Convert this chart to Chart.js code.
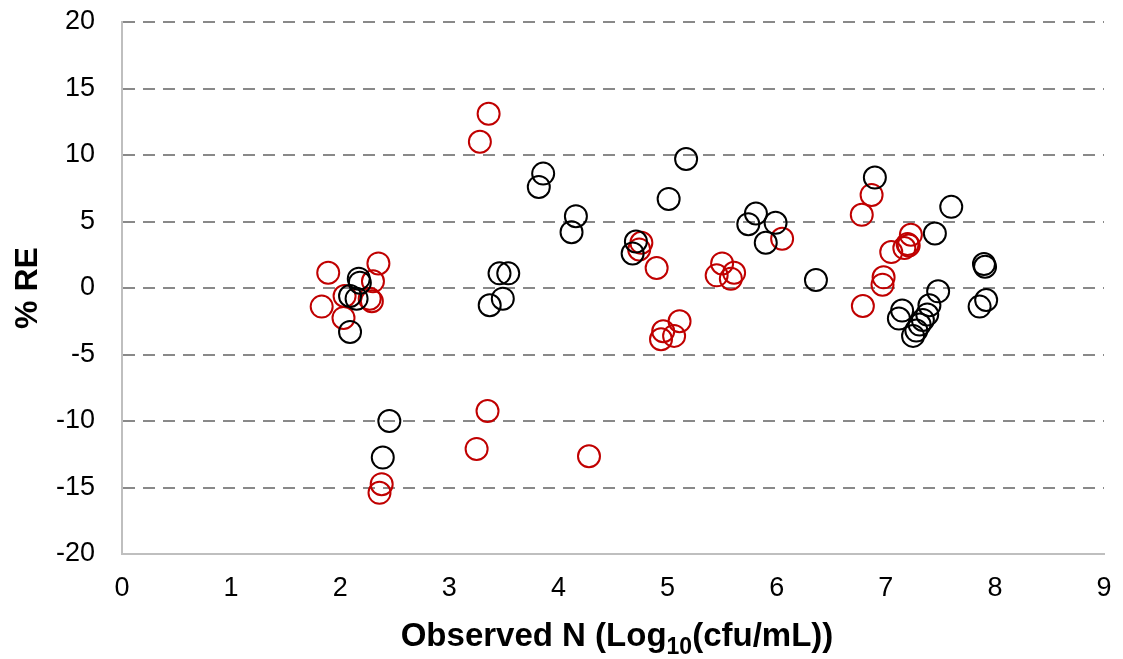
<!DOCTYPE html>
<html lang="en">
<head>
    <meta charset="UTF-8">
    <title>% RE vs Observed N</title>
    <style>
        body {
            margin: 0;
            padding: 0;
            background-color: #fff;
        }
        canvas {
            display: block;
        }
    </style>
</head>
<body>
    <canvas id="reChart" width="1123" height="659"></canvas>
    <script src="https://cdn.jsdelivr.net/npm/chart.js"></script>
    <script>
        // Observed N (log10 cfu/mL) and % RE
        const blackX = [2.17, 2.18, 2.15, 2.09, 2.09, 2.45, 2.39,
                        3.86, 3.82, 4.16, 4.12, 3.46, 3.54, 3.49, 3.37,
                        5.17, 5.01, 4.71, 4.68, 5.81, 5.74, 5.99, 5.90, 6.36,
                        6.90, 7.60, 7.45, 7.90, 7.91, 7.48, 7.92, 7.86,
                        7.15, 7.12, 7.40, 7.38, 7.34, 7.31, 7.28, 7.25];
        const blackY = [0.7, 0.4, -0.8, -0.6, -3.3, -10.0, -12.75,
                        8.6, 7.6, 5.4, 4.2, 1.1, 1.1, -0.8, -1.3,
                        9.7, 6.7, 3.5, 2.6, 5.6, 4.8, 4.9, 3.4, 0.6,
                        8.3, 6.1, 4.1, 1.8, 1.6, -0.25, -0.9, -1.4,
                        -1.7, -2.3, -1.3, -2.0, -2.4, -2.75, -3.2, -3.6];

        const redX = [1.89, 2.35, 2.30, 1.83, 2.03, 2.04, 2.27, 2.29,
                      2.38, 2.36,
                      3.36, 3.28, 3.35, 3.25, 4.28,
                      4.76, 4.74, 4.90, 5.50, 5.45, 5.61, 5.58, 6.05,
                      5.11, 4.96, 5.06, 4.94,
                      6.79, 6.78, 6.87, 7.23, 7.20, 7.17, 7.21, 7.05, 6.98, 6.97];
        const redY = [1.15, 1.85, 0.5, -1.4, -2.25, -0.6, -0.8, -1.0,
                      -14.75, -15.4,
                      13.1, 11.0, -9.25, -12.1, -12.65,
                      3.4, 2.9, 1.5, 1.85, 0.95, 1.15, 0.7, 3.7,
                      -2.5, -3.25, -3.6, -3.85,
                      -1.35, 5.5, 7.0, 4.0, 3.3, 3.0, 3.2, 2.7, 0.8, 0.25];

        const xTicks = [0, 1, 2, 3, 4, 5, 6, 7, 8, 9];
        const yTicks = [-20, -15, -10, -5, 0, 5, 10, 15, 20];

        const toPoints = (xs, ys) => xs.map((x, i) => ({ x: x, y: ys[i] }));

        const fontFamily = "'Liberation Sans', Arial, sans-serif";

        // x axis title with a real subscript "10"
        const xTitlePlugin = {
            id: 'xTitle',
            afterDraw(chart) {
                const { ctx, chartArea } = chart;
                const parts = [
                    { text: 'Observed N (Log', size: 33, dy: 0 },
                    { text: '10', size: 23, dy: 8 },
                    { text: '(cfu/mL))', size: 33, dy: 0 }
                ];
                ctx.save();
                ctx.fillStyle = '#000';
                ctx.textBaseline = 'alphabetic';
                ctx.textAlign = 'left';
                let total = 0;
                parts.forEach(p => {
                    ctx.font = `bold ${p.size}px ${fontFamily}`;
                    p.w = ctx.measureText(p.text).width;
                    total += p.w;
                });
                let x = (chartArea.left + chartArea.right) / 2 - total / 2 + 4;
                const base = 646;
                parts.forEach(p => {
                    ctx.font = `bold ${p.size}px ${fontFamily}`;
                    ctx.fillText(p.text, x, base + p.dy);
                    x += p.w;
                });
                ctx.restore();
            }
        };

        new Chart(document.getElementById('reChart'), {
            type: 'scatter',
            data: {
                datasets: [
                    {
                        label: 'Set A',
                        data: toPoints(blackX, blackY),
                        borderColor: '#000000',
                        backgroundColor: 'rgba(0,0,0,0)',
                        borderWidth: 2,
                        pointRadius: 11,
                        pointHoverRadius: 11
                    },
                    {
                        label: 'Set B',
                        data: toPoints(redX, redY),
                        borderColor: '#C00000',
                        backgroundColor: 'rgba(0,0,0,0)',
                        borderWidth: 2,
                        pointRadius: 11,
                        pointHoverRadius: 11
                    }
                ]
            },
            options: {
                responsive: false,
                animation: false,
                layout: { padding: { top: 22, right: 19, left: 0, bottom: 0 } },
                plugins: {
                    legend: { display: false },
                    tooltip: { enabled: false }
                },
                scales: {
                    x: {
                        type: 'linear',
                        min: xTicks[0],
                        max: xTicks[xTicks.length - 1],
                        afterBuildTicks: s => { s.ticks = xTicks.map(v => ({ value: v })); },
                        afterFit: s => {
                            s.height = 105;
                            s.paddingLeft = 0;
                            s.paddingRight = 0;
                        },
                        grid: { display: false, drawTicks: false },
                        border: { display: true, color: '#BFBFBF', width: 2 },
                        ticks: {
                            padding: 18,
                            color: '#000',
                            font: { family: fontFamily, size: 27 }
                        },
                        title: { display: false }
                    },
                    y: {
                        type: 'linear',
                        min: yTicks[0],
                        max: yTicks[yTicks.length - 1],
                        afterBuildTicks: s => { s.ticks = yTicks.map(v => ({ value: v })); },
                        afterFit: s => {
                            s.width = 122;
                            s.paddingTop = 0;
                            s.paddingBottom = 0;
                        },
                        grid: {
                            drawTicks: false,
                            lineWidth: 2,
                            color: ctx => (ctx.tick && ctx.tick.value === -20) ? 'rgba(0,0,0,0)' : '#898989'
                        },
                        border: { display: true, color: '#BFBFBF', width: 2, dash: [12, 8] },
                        ticks: {
                            padding: 27,
                            color: '#000',
                            font: { family: fontFamily, size: 27 }
                        },
                        title: {
                            display: true,
                            text: '% RE',
                            color: '#000',
                            padding: { top: 9, bottom: 0 },
                            font: { family: fontFamily, size: 32, weight: 'bold' }
                        }
                    }
                }
            },
            plugins: [xTitlePlugin]
        });
    </script>
</body>
</html>
